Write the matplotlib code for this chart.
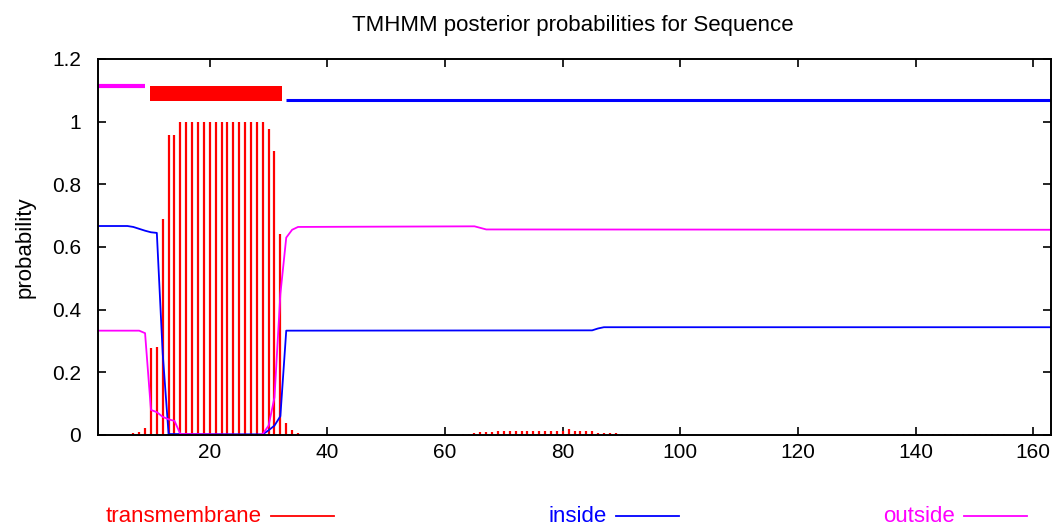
#!/usr/bin/env python3
"""TMHMM posterior probability plot (gnuplot look) redrawn with matplotlib."""

import matplotlib
matplotlib.use("Agg")
import matplotlib.pyplot as plt
from matplotlib.lines import Line2D

plt.rcParams["font.family"] = ["Liberation Sans", "DejaVu Sans"]

SEQ_LEN = 163

# predicted topology: (label, first residue, last residue)
TOPOLOGY = [("outside", 1, 9), ("TM", 10, 32), ("inside", 33, 163)]

# transmembrane posterior, one impulse per residue
TM_POS = [7, 8, 9, 10, 11, 12, 13, 14,
          15, 16, 17, 18, 19, 20, 21, 22, 23, 24, 25, 26, 27, 28, 29,
          30, 31, 32, 33, 34, 35,
          63, 64, 65, 66, 67, 68, 69, 70, 71, 72, 73, 74, 75, 76, 77,
          78, 79, 80, 81, 82, 83, 84, 85, 86, 87, 88, 89, 90, 91,
          137, 138, 139, 140, 141, 142, 143, 144, 145, 146, 147, 148,
          149, 150, 151, 152, 153, 154, 155]
TM_VAL = [0.005, 0.008, 0.022, 0.277, 0.282, 0.69, 0.958, 0.958,
          1.0, 1.0, 1.0, 1.0, 1.0, 1.0, 1.0, 1.0, 1.0, 1.0, 1.0, 1.0, 1.0, 1.0, 1.0,
          0.976, 0.907, 0.643, 0.039, 0.016, 0.006,
          0.004, 0.004, 0.005, 0.009, 0.010, 0.010, 0.014, 0.014, 0.014, 0.014, 0.014,
          0.014, 0.014, 0.014, 0.014, 0.014, 0.014, 0.014, 0.018, 0.014, 0.014, 0.014,
          0.014, 0.005, 0.005, 0.005, 0.005, 0.002, 0.004,
          0.003, 0.003, 0.003, 0.003, 0.003, 0.003, 0.003, 0.003, 0.003, 0.003,
          0.003, 0.003, 0.003, 0.003, 0.003, 0.003, 0.003, 0.003, 0.003]

# inside / outside posteriors (residues where the curve changes)
INSIDE_X = [1, 6, 7, 8, 9, 10, 11, 12, 13, 29, 30, 31, 32, 33, 85, 86, 87, 163]
INSIDE_Y = [0.667, 0.667, 0.664, 0.658, 0.652, 0.647, 0.645, 0.26, 0.003,
            0.002, 0.015, 0.03, 0.06, 0.333, 0.334, 0.340, 0.344, 0.344]

OUTSIDE_X = [1, 8, 9, 10, 11, 12, 13, 14, 15, 28, 29, 30, 31, 32, 33, 34, 35,
             65, 66, 67, 163]
OUTSIDE_Y = [0.333, 0.333, 0.325, 0.08, 0.073, 0.058, 0.05, 0.045, 0.003,
             0.0, 0.003, 0.03, 0.12, 0.45, 0.63, 0.655, 0.664,
             0.666, 0.661, 0.656, 0.655]

TM_COLOR = "#ff0000"
IN_COLOR = "#0000ff"
OUT_COLOR = "#ff00ff"

LEGEND = [("transmembrane", TM_COLOR), ("inside", IN_COLOR), ("outside", OUT_COLOR)]


fig = plt.figure(figsize=(10.55, 5.25), dpi=100)
ax = fig.add_axes([98 / 1055, 1 - 435 / 525, (1051 - 98) / 1055, (435 - 59) / 525])

# posterior curves
ax.vlines(TM_POS, 0, TM_VAL, color=TM_COLOR, linewidth=1.6)
ax.plot(INSIDE_X, INSIDE_Y, color=IN_COLOR, linewidth=1.3)
ax.plot(OUTSIDE_X, OUTSIDE_Y, color=OUT_COLOR, linewidth=1.3)

# topology bars on top
for kind, start, end in TOPOLOGY:
    if kind == "TM":
        ax.fill_between([start - 0.15, end + 0.2], 1.066, 1.114,
                        color=TM_COLOR, linewidth=0)
    elif kind == "outside":
        ax.plot([start - 0.5, end], [1.113, 1.113], color=OUT_COLOR,
                linewidth=3.0, solid_capstyle="butt")
    else:
        ax.plot([start, end + 0.5], [1.070, 1.070], color=IN_COLOR,
                linewidth=2.2, solid_capstyle="butt")

ax.set_xlim(1, SEQ_LEN)
ax.set_ylim(0, 1.2)
ax.set_xticks(range(20, 161, 20))
ax.set_yticks([0, 0.2, 0.4, 0.6, 0.8, 1.0, 1.2])
ax.set_yticklabels(["0", "0.2", "0.4", "0.6", "0.8", "1", "1.2"])
ax.tick_params(direction="in", length=6, width=1.2, top=True, right=True,
               labelsize=15, colors="black")
ax.tick_params(axis="y", pad=12)
ax.tick_params(axis="x", pad=6)
for sp in ax.spines.values():
    sp.set_linewidth(1.4)

ax.set_ylabel("probability", fontsize=16, labelpad=12)
fig.text(573 / 1055, 1 - 25 / 525, "TMHMM posterior probabilities for Sequence",
         ha="center", va="center", fontsize=16)

# gnuplot style key below the plot
key_right = [262, 607, 955]
for (label, col), xr in zip(LEGEND, key_right):
    fig.text(xr / 1055, 1 - 516 / 525, label, color=col, fontsize=16,
             ha="right", va="center")
    fig.add_artist(Line2D([(xr + 9) / 1055, (xr + 72) / 1055],
                          [1 - 516 / 525, 1 - 516 / 525],
                          color=col, linewidth=1.3, transform=fig.transFigure))

fig.savefig("out.png", dpi=100, facecolor="white")
